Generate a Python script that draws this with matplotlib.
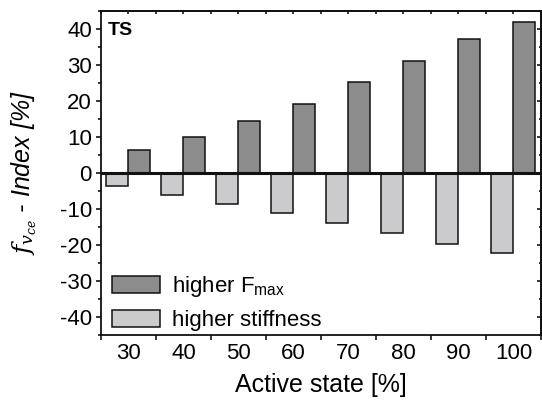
import matplotlib
matplotlib.use("Agg")
import matplotlib.pyplot as plt
from matplotlib.ticker import MultipleLocator, FixedLocator, NullFormatter
import numpy as np

plt.rcParams['font.family'] = ['Liberation Sans', 'DejaVu Sans']
plt.rcParams['mathtext.fontset'] = 'custom'
plt.rcParams['mathtext.rm'] = 'Liberation Sans'
plt.rcParams['mathtext.it'] = 'DejaVu Serif:italic'
plt.rcParams['mathtext.sf'] = 'Liberation Sans'
plt.rcParams['axes.unicode_minus'] = False

categories = [30, 40, 50, 60, 70, 80, 90, 100]
higher_fmax = [6.4, 9.9, 14.4, 19.3, 25.2, 31.2, 37.1, 42.0]
higher_stiffness = [-3.5, -6.1, -8.5, -11.1, -14.0, -16.7, -19.6, -22.3]
series_labels = ["higher F$_{\\mathrm{max}}$", "higher stiffness"]
x_ticklabels = ["30", "40", "50", "60", "70", "80", "90", "100"]

dark = "#8c8c8c"
light = "#cbcbcd"

fig = plt.figure(figsize=(5.42, 4.05), dpi=100)
ax = fig.add_axes([0.1863, 0.1728, 0.8117, 0.800])

x = np.array(categories, dtype=float)
ax.bar(x, higher_fmax, width=4, align='edge', color=dark, edgecolor='#111111', linewidth=1.1, label=series_labels[0])
ax.bar(x, higher_stiffness, width=-4, align='edge', color=light, edgecolor='#111111', linewidth=1.1, label=series_labels[1])

ax.axhline(0, color='#111111', linewidth=2.2, zorder=3)

ax.set_xlim(25, 105)
ax.set_ylim(-45, 45)

ax.yaxis.set_major_locator(MultipleLocator(10))
ax.yaxis.set_minor_locator(MultipleLocator(5))
ax.tick_params(axis='y', which='major', direction='out', length=3.6, width=1.1, labelsize=16, pad=3)
ax.tick_params(axis='y', which='minor', direction='out', length=2.2, width=1.1)

ax.xaxis.set_major_locator(FixedLocator(np.arange(25, 106, 10)))
ax.xaxis.set_major_formatter(NullFormatter())
ax.set_xticks(x, x_ticklabels, minor=True)
ax.tick_params(axis='x', which='major', direction='out', length=3.6, width=1.1)
ax.tick_params(axis='x', which='minor', length=0, labelsize=16, pad=6)

secx = ax.secondary_xaxis('top')
secx.set_xticks(np.arange(25, 106, 5))
secx.set_xticklabels([])
secx.tick_params(direction='in', length=2.2, width=1.1)
secy = ax.secondary_yaxis('right')
secy.yaxis.set_major_locator(MultipleLocator(10))
secy.yaxis.set_minor_locator(MultipleLocator(5))
secy.set_yticklabels([])
secy.tick_params(which='major', direction='in', length=2.6, width=1.1)
secy.tick_params(which='minor', direction='in', length=1.6, width=1.1)

for s in ax.spines.values():
    s.set_linewidth(1.3)
    s.set_color('#111111')
for sp in [secx, secy]:
    for s in sp.spines.values():
        s.set_linewidth(1.3)
        s.set_color('#111111')

ax.set_xlabel("Active state [%]", fontsize=18, labelpad=6)
ax.set_ylabel("$f_{v_{ce}}$ - Index [%]", fontsize=18, style='italic', labelpad=15)

ax.text(0.016, 0.926, "TS", transform=ax.transAxes, fontsize=14, fontweight='bold', va='baseline', ha='left')

ax.legend(loc='lower left', frameon=False, fontsize=16, handlelength=2.16, handleheight=0.8,
          borderaxespad=0.0, labelspacing=0.5, handletextpad=0.55, borderpad=0.4,
          bbox_to_anchor=(0.004, -0.016))

fig.savefig("out.png", dpi=100)
